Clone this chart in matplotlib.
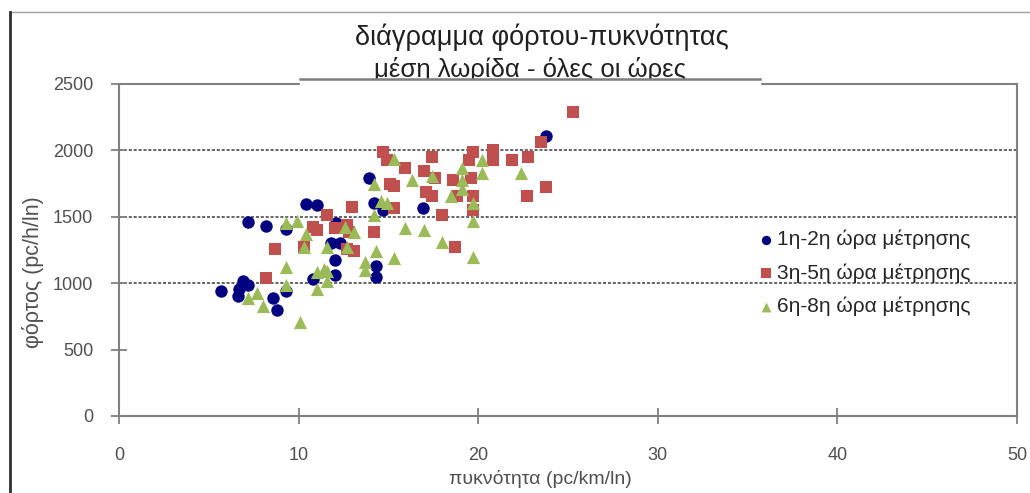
import matplotlib.pyplot as plt
from matplotlib.lines import Line2D
from matplotlib.patches import Rectangle

plt.rcParams['font.family'] = ['Liberation Sans', 'DejaVu Sans']

# 1η-2η ώρα μέτρησης
dens_h12 = [5.7, 6.6, 6.7, 6.9, 7.2, 7.2, 8.2, 8.6, 8.8, 9.3, 9.3, 10.4, 11.0,
            10.8, 12.1, 11.8, 12.3, 12.0, 12.0, 13.9, 14.2, 14.7, 16.9, 14.3,
            14.3, 23.8]
flow_h12 = [945, 900, 960, 1015, 985, 1460, 1430, 885, 795, 940, 1405, 1595,
            1590, 1035, 1455, 1305, 1305, 1175, 1060, 1795, 1605, 1550, 1565,
            1130, 1050, 2105]

# 3η-5η ώρα μέτρησης
dens_h35 = [25.3, 23.5, 14.7, 14.9, 15.9, 15.1, 15.3, 17.0, 17.4, 17.1, 17.4,
            17.6, 18.6, 18.8, 19.6, 19.7, 19.5, 20.8, 20.8, 19.7, 19.7, 21.9,
            22.8, 22.7, 23.8, 18.0, 18.7, 15.3, 14.2, 13.0, 11.6, 10.8, 11.0,
            12.0, 12.7, 12.8, 8.7, 10.3, 12.7, 13.1, 8.2]
flow_h35 = [2290, 2065, 1990, 1925, 1870, 1750, 1735, 1845, 1950, 1685, 1655,
            1790, 1775, 1655, 1790, 1990, 1925, 2005, 1925, 1655, 1550, 1925,
            1950, 1655, 1725, 1510, 1275, 1565, 1385, 1575, 1515, 1420, 1400,
            1415, 1435, 1385, 1260, 1275, 1255, 1240, 1040]

# 6η-8η ώρα μέτρησης
dens_h68 = [7.2, 7.7, 8.0, 9.3, 9.9, 10.4, 10.3, 9.3, 9.3, 10.1, 11.0, 11.0,
            11.6, 11.6, 11.6, 12.6, 12.7, 13.1, 13.7, 13.7, 14.3, 15.3, 15.9,
            14.6, 14.9, 14.2, 15.3, 14.2, 16.3, 17.4, 17.0, 18.0, 19.7, 18.5,
            19.1, 19.1, 19.1, 19.7, 19.7, 20.2, 20.2, 22.4, 11.4]
flow_h68 = [885, 925, 825, 1450, 1470, 1370, 1270, 1125, 990, 710, 1085, 960,
            1095, 1020, 1270, 1420, 1270, 1385, 1160, 1100, 1240, 1190, 1415,
            1620, 1605, 1515, 1935, 1750, 1775, 1805, 1400, 1310, 1195, 1655,
            1870, 1775, 1710, 1605, 1465, 1925, 1830, 1830, 1110]

series_labels = ['1η-2η ώρα μέτρησης', '3η-5η ώρα μέτρησης', '6η-8η ώρα μέτρησης']
grid_levels = [1000, 1500, 2000]

W, H = 1030, 493
fig = plt.figure(figsize=(W / 100, H / 100), dpi=100)
ax = fig.add_axes([119 / W, 1 - 416 / H, (1017 - 119) / W, (416 - 84) / H])

for g in grid_levels:
    ax.axhline(g, color='#3a3a3a', lw=1.1, ls=(0, (2, 1.2)), zorder=1)

ax.scatter(dens_h12, flow_h12, s=80, marker='o', color='#000080',
           label=series_labels[0], zorder=3, linewidths=0)
ax.scatter(dens_h35, flow_h35, s=85, marker='s', color='#C0504D',
           label=series_labels[1], zorder=4, linewidths=0)
ax.scatter(dens_h68, flow_h68, s=90, marker='^', color='#9BBB59',
           label=series_labels[2], zorder=5, linewidths=0)

ax.set_xlim(0, 50)
ax.set_ylim(0, 2500)
ax.set_xticks(range(0, 51, 10))
ax.set_yticks(range(0, 2501, 500))
for sp in ax.spines.values():
    sp.set_color('#808080')
    sp.set_linewidth(1.5)
ax.tick_params(direction='inout', length=11, width=1.3, color='#808080',
               labelcolor='#505050', labelsize=13)
ax.tick_params(axis='y', pad=13)
ax.tick_params(axis='x', pad=17)

ax.set_xlabel('πυκνότητα (pc/km/ln)', fontsize=14, color='#505050')
ax.xaxis.set_label_coords((540 - 119) / 898, (416 - 470) / 332)
ax.set_ylabel('φόρτος (pc/h/ln)', fontsize=15.5, color='#505050')
ax.yaxis.set_label_coords((44 - 119) / 898, (416 - 272) / 332)

leg = ax.legend(loc='center left', bbox_to_anchor=((749 - 119) / 898, (416 - 273) / 332),
                frameon=False, fontsize=15, handlelength=0.8, handletextpad=0.15,
                labelspacing=0.68, markerscale=0.75, borderaxespad=0)
for t in leg.get_texts():
    t.set_color('#262626')

# chart title
fig.text(542 / W, 1 - 37 / H, 'διάγραμμα φόρτου-πυκνότητας', ha='center',
         va='center', fontsize=19.5, color='#202020')
fig.text(530 / W, 1 - 69 / H, 'μέση λωρίδα - όλες οι ώρες', ha='center',
         va='center', fontsize=18.5, color='#202020')
fig.add_artist(Rectangle((300 / W, 1 - 84 / H), 460 / W, 5 / H,
                         transform=fig.transFigure, color='white', zorder=10))
fig.add_artist(Line2D([300 / W, 760 / W], [1 - 79 / H, 1 - 79 / H],
                      transform=fig.transFigure, color='#7f7f7f', lw=1.8, zorder=11))

# outer frame
fig.add_artist(Line2D([10 / W, 1], [1 - 12 / H, 1 - 12 / H],
                      transform=fig.transFigure, color='#a0a0a0', lw=1))
fig.add_artist(Line2D([10 / W, 10 / W], [0, 1 - 12 / H],
                      transform=fig.transFigure, color='#303030', lw=2))

fig.savefig('out.png', dpi=100)
